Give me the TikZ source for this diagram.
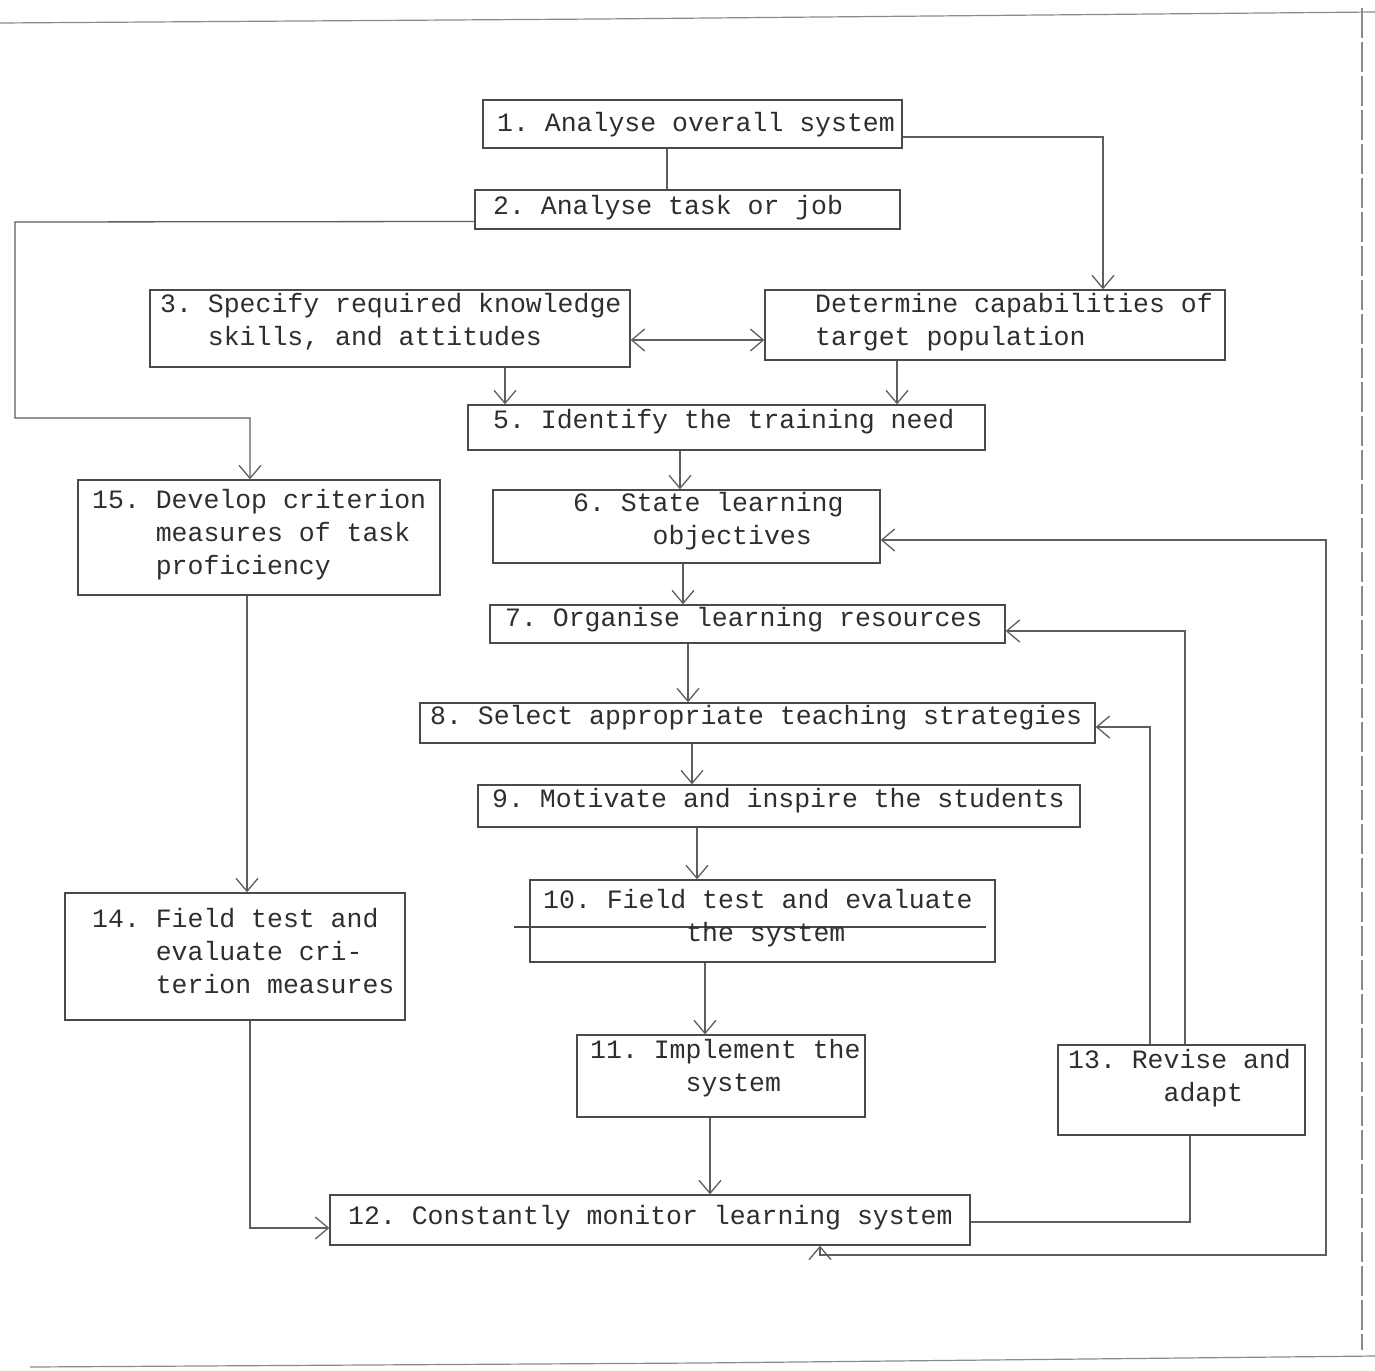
\documentclass[tikz,border=0pt]{standalone}
\usepackage{fontspec}
\newfontfamily\twfont{Liberation Mono}
\usetikzlibrary{arrows.meta}
\definecolor{linec}{HTML}{5E5E5E}
\definecolor{boxc}{HTML}{4A4A4A}
\definecolor{textc}{HTML}{2E2E2E}
\definecolor{framec}{HTML}{8A8A8A}
\tikzset{
  box/.style={draw=boxc, line width=1.4pt, inner sep=0pt},
  txt/.style={text=textc, inner sep=0pt, anchor=west, align=left,
              font=\twfont\frenchspacing\fontsize{26.5}{33}\selectfont},
  conn/.style={draw=linec, line width=1.3pt},
  arr/.style={conn, -{Straight Barb[length=13pt,width=22pt]}},
  arrtwo/.style={conn, {Straight Barb[length=13pt,width=22pt]}-{Straight Barb[length=13pt,width=22pt]}},
  frame/.style={draw=framec, line width=1.2pt}
}
\begin{document}
\begin{tikzpicture}[x=1pt,y=-1pt]
\useasboundingbox (0,0) rectangle (1375,1370);
% page frame
\draw[frame] (0,23) -- (600,19) -- (1375,12);
\draw[frame, dash pattern=on 30pt off 4pt] (1362,8) -- (1362,1350);
\draw[frame] (30,1367) -- (700,1363) -- (1375,1356);

% boxes
\node[box, minimum width=419, minimum height=48] (b1) at (692.5,124) {};
\node[box, minimum width=425, minimum height=39] (b2) at (687.5,209.5) {};
\node[box, minimum width=480, minimum height=77] (b3) at (390,328.5) {};
\node[box, minimum width=460, minimum height=70] (b4) at (995,325) {};
\node[box, minimum width=517, minimum height=45] (b5) at (726.5,427.5) {};
\node[box, minimum width=387, minimum height=73] (b6) at (686.5,526.5) {};
\node[box, minimum width=515, minimum height=38] (b7) at (747.5,624) {};
\node[box, minimum width=675, minimum height=40] (b8) at (757.5,723) {};
\node[box, minimum width=602, minimum height=42] (b9) at (779,806) {};
\node[box, minimum width=465, minimum height=82] (b10) at (762.5,921) {};
\node[box, minimum width=288, minimum height=82] (b11) at (721,1076) {};
\node[box, minimum width=640, minimum height=50] (b12) at (650,1220) {};
\node[box, minimum width=247, minimum height=90] (b13) at (1181.5,1090) {};
\node[box, minimum width=340, minimum height=127] (b14) at (235,956.5) {};
\node[box, minimum width=362, minimum height=115] (b15) at (259,537.5) {};

% stray rule across box 10
\coordinate (r927) at (0,927);
\draw[draw=boxc, line width=1.2pt] ([xshift=-15pt]b10.west |- r927) -- ([xshift=-10pt]b10.east |- r927);

% texts
\node[txt] (t1) at (497,125) {1. Analyse overall system};
\node[txt] (t2) at (493,208) {2. Analyse task or job};
\node[txt] (t3) at (160,322) {3. Specify required knowledge\\\hphantom{3. }skills, and attitudes};
\node[txt] (t4) at (815,322) {Determine capabilities of\\target population};
\node[txt] (t5) at (493,422) {5. Identify the training need};
\node[txt] (t6) at (573,521) {6. State learning\\\hphantom{6. St}objectives};
\node[txt] (t7) at (505,620) {7. Organise learning resources};
\node[txt] (t8) at (430,718) {8. Select appropriate teaching strategies};
\node[txt] (t9) at (492,801) {9. Motivate and inspire the students};
\node[txt] (t10) at (543,918) {10. Field test and evaluate\\\hphantom{10. Field}the system};
\node[txt] (t11) at (590,1068) {11. Implement the\\\hphantom{11. Im}system};
\node[txt] (t12) at (348,1218) {12. Constantly monitor learning system};
\node[txt] (t13) at (1068,1078) {13. Revise and\\\hphantom{13. Re}adapt};
\node[txt] (t14) at (92,951) {14. Field test and\\\hphantom{14. }evaluate cri-\\\hphantom{14. }terion measures};
\node[txt] (t15) at (92,535) {15. Develop criterion\\\hphantom{15. }measures of task\\\hphantom{15. }proficiency};

% column / row helpers
\coordinate (c667) at (667,0);
\coordinate (c1103) at (1103,0);
\coordinate (r340) at (0,340);
\coordinate (c505) at (505,0);
\coordinate (c897) at (897,0);
\coordinate (c680) at (680,0);
\coordinate (c683) at (683,0);
\coordinate (c688) at (688,0);
\coordinate (c692) at (692,0);
\coordinate (c697) at (697,0);
\coordinate (c705) at (705,0);
\coordinate (c710) at (710,0);
\coordinate (c247) at (247,0);
\coordinate (c250) at (250,0);
\coordinate (c1190) at (1190,0);
\coordinate (c1185) at (1185,0);
\coordinate (c1150) at (1150,0);
\coordinate (c820) at (820,0);
\coordinate (L1) at (15,222);
\coordinate (L2) at (15,418);
\coordinate (L3) at (250,418);
\coordinate (R1) at (1326,1255);
\coordinate (R2) at (1326,540);

% connectors
\draw[conn] (b1.south -| c667) -- (b2.north -| c667);
\draw[arr] ([yshift=-13pt]b1.east) -| (c1103 |- b4.north);
\draw[arrtwo] (b3.east |- r340) -- (b4.west |- r340);
\draw[arr] (b3.south -| c505) -- (b5.north -| c505);
\draw[arr] (b4.south -| c897) -- (b5.north -| c897);
\draw[arr] (b5.south -| c680) -- (b6.north -| c680);
\draw[arr] (b6.south -| c683) -- (b7.north -| c683);
\draw[arr] (b7.south -| c688) -- (b8.north -| c688);
\draw[arr] (b8.south -| c692) -- (b9.north -| c692);
\draw[arr] (b9.south -| c697) -- (b10.north -| c697);
\draw[arr] (b10.south -| c705) -- (b11.north -| c705);
\draw[arr] (b11.south -| c710) -- (b12.north -| c710);
\draw[arr] ([yshift=-12pt]b2.west) -- (L1) -- (L2) -- (L3) -- (b15.north -| L3);
\draw[arr] (b15.south -| c247) -- (b14.north -| c247);
\draw[arr] (b14.south -| c250) |- ([yshift=-8pt]b12.west);
\draw[conn] ([yshift=-2pt]b12.east) -| (b13.south -| c1190);
\draw[arr] (b13.north -| c1185) |- ([yshift=-7pt]b7.east);
\draw[arr] (b13.north -| c1150) |- ([yshift=-4pt]b8.east);
\draw[arrtwo] (b12.south -| c820) -- (c820 |- R1) -- (R1) -- (R2) -- ([yshift=-13.5pt]b6.east);
\end{tikzpicture}
\end{document}
